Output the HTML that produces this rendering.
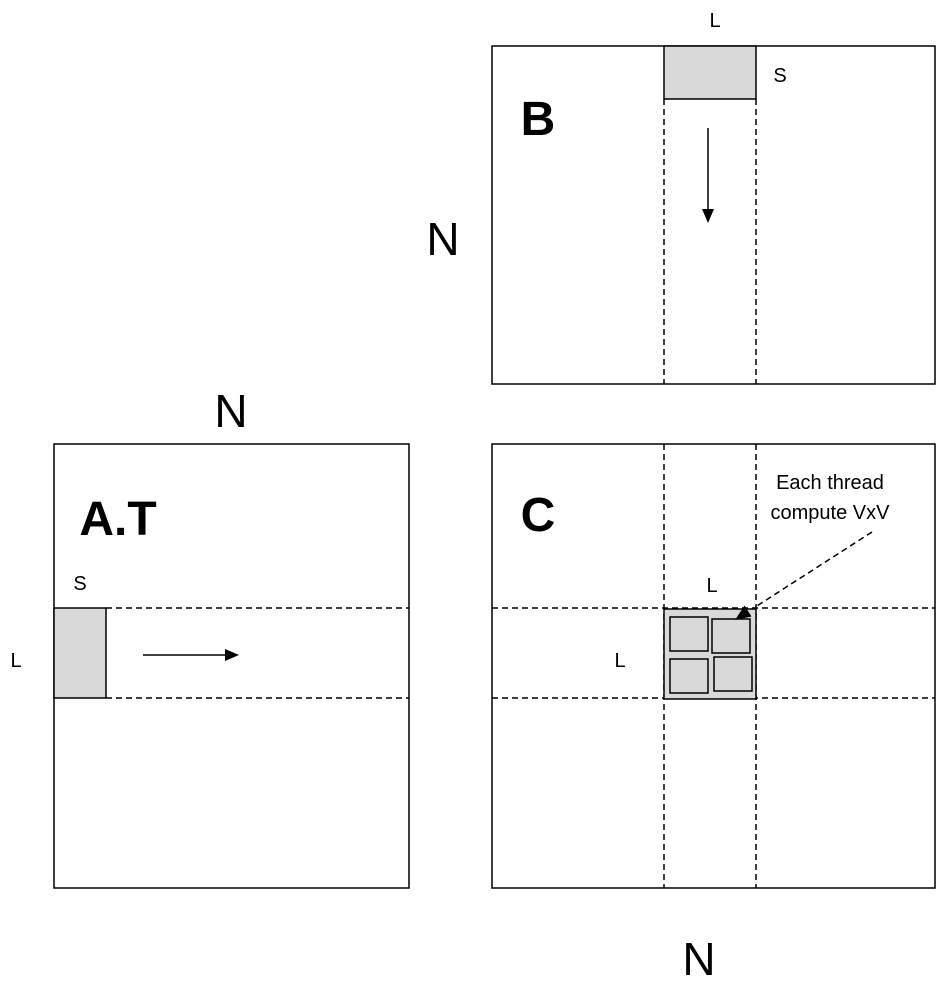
<!DOCTYPE html><html><head><style>body{margin:0;background:#fff}svg text{font-family:"Liberation Sans",sans-serif}</style></head><body>
<svg width="950" height="1002" xmlns="http://www.w3.org/2000/svg">
<g stroke="#000" stroke-width="1.5" fill="none">
<rect x="492" y="46" width="443" height="338"/>
<rect x="54" y="444" width="355" height="444"/>
<rect x="492" y="444" width="443" height="444"/>
</g>
<rect x="664" y="46" width="92" height="53" fill="#d9d9d9" stroke="#000" stroke-width="1.5"/>
<rect x="54" y="608" width="52" height="90" fill="#d9d9d9" stroke="#000" stroke-width="1.5"/>
<g stroke="#000" stroke-width="1.5" stroke-dasharray="6,4">
<line x1="664" y1="99" x2="664" y2="384"/><line x1="756" y1="99" x2="756" y2="384"/>
<line x1="106" y1="608" x2="409" y2="608"/><line x1="106" y1="698" x2="409" y2="698"/>
<line x1="664" y1="444" x2="664" y2="888"/><line x1="756" y1="444" x2="756" y2="888"/>
<line x1="492" y1="608" x2="935" y2="608"/><line x1="492" y1="698" x2="935" y2="698"/>
<line x1="872" y1="532" x2="749" y2="611"/>
</g>
<rect x="664" y="609" width="92" height="90" fill="#d9d9d9" stroke="#000" stroke-width="1.5"/>
<g fill="#d9d9d9" stroke="#000" stroke-width="1.5">
<rect x="670" y="617" width="38" height="34"/><rect x="712" y="619" width="38" height="34"/>
<rect x="670" y="659" width="38" height="34"/><rect x="714" y="657" width="38" height="34"/>
</g>
<polygon points="735,620 744.5,605.5 751.5,616.5" fill="#000"/>
<line x1="708" y1="128" x2="708" y2="210" stroke="#000" stroke-width="1.5"/>
<polygon points="702,209 714,209 708,223" fill="#000"/>
<line x1="143" y1="655" x2="226" y2="655" stroke="#000" stroke-width="1.5"/>
<polygon points="225,649 225,661 239,655" fill="#000"/>
<g fill="#000">
<text x="715" y="27" font-size="20" text-anchor="middle">L</text>
<text x="780" y="82" font-size="20" text-anchor="middle">S</text>
<text x="538" y="135" font-size="48" font-weight="bold" text-anchor="middle">B</text>
<text x="443" y="255" font-size="46" text-anchor="middle">N</text>
<text x="231" y="427" font-size="46" text-anchor="middle">N</text>
<text x="118" y="535" font-size="48" font-weight="bold" text-anchor="middle">A.T</text>
<text x="80" y="590" font-size="20" text-anchor="middle">S</text>
<text x="16" y="667" font-size="20" text-anchor="middle">L</text>
<text x="538" y="531" font-size="48" font-weight="bold" text-anchor="middle">C</text>
<text x="712" y="592" font-size="20" text-anchor="middle">L</text>
<text x="620" y="667" font-size="20" text-anchor="middle">L</text>
<text x="830" y="489" font-size="20" text-anchor="middle">Each thread</text>
<text x="830" y="519" font-size="20" text-anchor="middle">compute VxV</text>
<text x="699" y="975" font-size="46" text-anchor="middle">N</text>
</g>
</svg></body></html>
